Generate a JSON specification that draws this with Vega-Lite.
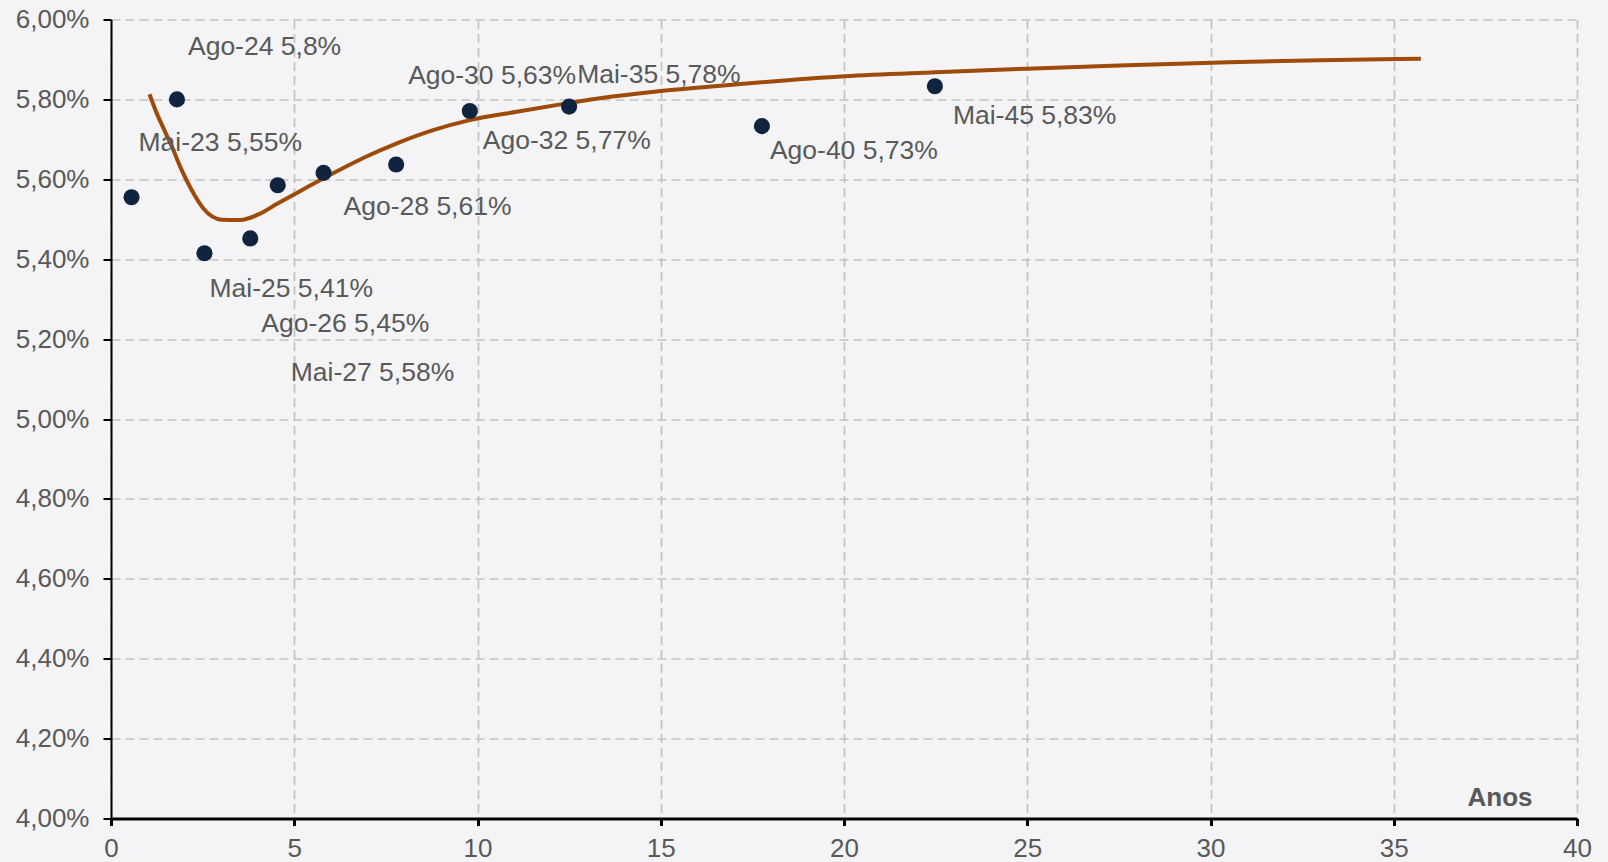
{
  "$schema": "https://vega.github.io/schema/vega-lite/v6.json",
  "width": 1466,
  "height": 799,
  "autosize": {"type": "none"},
  "padding": {"left": 111, "top": 19.5, "right": 31, "bottom": 43.5},
  "background": "#f4f4f6",
  "datasets": {
    "vertices": [
      {"anos": 0.56, "taxa": 5.555, "rotulo": "Mai-23 5,55%"},
      {"anos": 1.8, "taxa": 5.8, "rotulo": "Ago-24 5,8%"},
      {"anos": 2.55, "taxa": 5.415, "rotulo": "Mai-25 5,41%"},
      {"anos": 3.8, "taxa": 5.452, "rotulo": "Ago-26 5,45%"},
      {"anos": 4.55, "taxa": 5.585, "rotulo": "Mai-27 5,58%"},
      {"anos": 5.8, "taxa": 5.616, "rotulo": "Ago-28 5,61%"},
      {"anos": 7.78, "taxa": 5.637, "rotulo": "Ago-30 5,63%"},
      {"anos": 9.79, "taxa": 5.771, "rotulo": "Ago-32 5,77%"},
      {"anos": 12.5, "taxa": 5.782, "rotulo": "Mai-35 5,78%"},
      {"anos": 17.76, "taxa": 5.733, "rotulo": "Ago-40 5,73%"},
      {"anos": 22.48, "taxa": 5.833, "rotulo": "Mai-45 5,83%"}
    ],
    "curva": [
      {"anos": 1.05, "taxa": 5.813},
      {"anos": 1.25, "taxa": 5.765},
      {"anos": 1.43, "taxa": 5.728},
      {"anos": 1.66, "taxa": 5.682},
      {"anos": 1.93, "taxa": 5.623},
      {"anos": 2.2, "taxa": 5.573},
      {"anos": 2.52, "taxa": 5.527},
      {"anos": 3.02, "taxa": 5.499},
      {"anos": 3.52, "taxa": 5.498},
      {"anos": 4.02, "taxa": 5.512},
      {"anos": 4.52, "taxa": 5.538},
      {"anos": 5.07, "taxa": 5.566},
      {"anos": 6.06, "taxa": 5.615},
      {"anos": 6.97, "taxa": 5.657},
      {"anos": 7.8, "taxa": 5.69},
      {"anos": 8.79, "taxa": 5.723},
      {"anos": 9.79, "taxa": 5.748},
      {"anos": 11.07, "taxa": 5.769},
      {"anos": 12.43, "taxa": 5.79},
      {"anos": 13.34, "taxa": 5.803},
      {"anos": 14.88, "taxa": 5.82},
      {"anos": 16.07, "taxa": 5.83},
      {"anos": 17.5, "taxa": 5.841},
      {"anos": 20.02, "taxa": 5.858},
      {"anos": 22.5, "taxa": 5.868},
      {"anos": 25.0, "taxa": 5.877},
      {"anos": 27.5, "taxa": 5.885},
      {"anos": 30.5, "taxa": 5.893},
      {"anos": 33.0, "taxa": 5.898},
      {"anos": 35.74, "taxa": 5.902}
    ]
  },
  "config": {
    "view": {"stroke": null},
    "font": "Liberation Sans",
    "axis": {
      "grid": true,
      "gridColor": "#c2c2c2",
      "gridDash": [9, 5],
      "gridWidth": 1.7,
      "domainColor": "#000000",
      "tickColor": "#000000",
      "labelColor": "#595959",
      "labelFont": "Liberation Sans",
      "labelFontSize": 26,
      "labelFontWeight": "normal"
    }
  },
  "encoding": {
    "x": {
      "field": "anos",
      "type": "quantitative",
      "scale": {"domain": [0, 40], "nice": false, "zero": false},
      "axis": {
        "values": [0, 5, 10, 15, 20, 25, 30, 35, 40],
        "domainWidth": 3,
        "tickWidth": 3,
        "tickSize": 7,
        "labelPadding": 10,
        "labelFlush": false,
        "title": "Anos",
        "titleFont": "Liberation Sans",
        "titleFontSize": 26,
        "titleFontWeight": "bold",
        "titleColor": "#595959",
        "titleAnchor": "end",
        "titleAlign": "right",
        "titleBaseline": "middle",
        "titleX": 1421,
        "titleY": -21
      }
    },
    "y": {
      "field": "taxa",
      "type": "quantitative",
      "scale": {"domain": [4, 6], "nice": false, "zero": false},
      "axis": {
        "values": [4, 4.2, 4.4, 4.6, 4.8, 5, 5.2, 5.4, 5.6, 5.8, 6],
        "labelExpr": "replace(format(datum.value, '.2f'), '.', ',') + '%'",
        "domainWidth": 2,
        "tickWidth": 2,
        "tickSize": 8,
        "labelPadding": 14,
        "labelFlush": false,
        "title": null
      }
    }
  },
  "layer": [
    {
      "data": {"name": "curva"},
      "mark": {"type": "line", "color": "#9e4a08", "strokeWidth": 4, "interpolate": "monotone"}
    },
    {
      "data": {"name": "vertices"},
      "mark": {"type": "circle", "color": "#10243f", "opacity": 1, "size": 260}
    },
    {
      "data": {"name": "vertices"},
      "transform": [{"filter": "datum.rotulo === 'Mai-23 5,55%'"}],
      "mark": {"type": "text", "align": "left", "baseline": "middle", "dx": 7, "dy": -54, "fontSize": 26.5, "color": "#595959"},
      "encoding": {"text": {"field": "rotulo"}}
    },
    {
      "data": {"name": "vertices"},
      "transform": [{"filter": "datum.rotulo === 'Ago-24 5,8%'"}],
      "mark": {"type": "text", "align": "left", "baseline": "middle", "dx": 11, "dy": -52, "fontSize": 26.5, "color": "#595959"},
      "encoding": {"text": {"field": "rotulo"}}
    },
    {
      "data": {"name": "vertices"},
      "transform": [{"filter": "datum.rotulo === 'Mai-25 5,41%'"}],
      "mark": {"type": "text", "align": "left", "baseline": "middle", "dx": 5, "dy": 36, "fontSize": 26.5, "color": "#595959"},
      "encoding": {"text": {"field": "rotulo"}}
    },
    {
      "data": {"name": "vertices"},
      "transform": [{"filter": "datum.rotulo === 'Ago-26 5,45%'"}],
      "mark": {"type": "text", "align": "left", "baseline": "middle", "dx": 11, "dy": 86, "fontSize": 26.5, "color": "#595959"},
      "encoding": {"text": {"field": "rotulo"}}
    },
    {
      "data": {"name": "vertices"},
      "transform": [{"filter": "datum.rotulo === 'Mai-27 5,58%'"}],
      "mark": {"type": "text", "align": "left", "baseline": "middle", "dx": 13, "dy": 188, "fontSize": 26.5, "color": "#595959"},
      "encoding": {"text": {"field": "rotulo"}}
    },
    {
      "data": {"name": "vertices"},
      "transform": [{"filter": "datum.rotulo === 'Ago-28 5,61%'"}],
      "mark": {"type": "text", "align": "left", "baseline": "middle", "dx": 20, "dy": 34, "fontSize": 26.5, "color": "#595959"},
      "encoding": {"text": {"field": "rotulo"}}
    },
    {
      "data": {"name": "vertices"},
      "transform": [{"filter": "datum.rotulo === 'Ago-30 5,63%'"}],
      "mark": {"type": "text", "align": "left", "baseline": "middle", "dx": 12, "dy": -89, "fontSize": 26.5, "color": "#595959"},
      "encoding": {"text": {"field": "rotulo"}}
    },
    {
      "data": {"name": "vertices"},
      "transform": [{"filter": "datum.rotulo === 'Ago-32 5,77%'"}],
      "mark": {"type": "text", "align": "left", "baseline": "middle", "dx": 13, "dy": 30, "fontSize": 26.5, "color": "#595959"},
      "encoding": {"text": {"field": "rotulo"}}
    },
    {
      "data": {"name": "vertices"},
      "transform": [{"filter": "datum.rotulo === 'Mai-35 5,78%'"}],
      "mark": {"type": "text", "align": "left", "baseline": "middle", "dx": 8, "dy": -32, "fontSize": 26.5, "color": "#595959"},
      "encoding": {"text": {"field": "rotulo"}}
    },
    {
      "data": {"name": "vertices"},
      "transform": [{"filter": "datum.rotulo === 'Ago-40 5,73%'"}],
      "mark": {"type": "text", "align": "left", "baseline": "middle", "dx": 8, "dy": 25, "fontSize": 26.5, "color": "#595959"},
      "encoding": {"text": {"field": "rotulo"}}
    },
    {
      "data": {"name": "vertices"},
      "transform": [{"filter": "datum.rotulo === 'Mai-45 5,83%'"}],
      "mark": {"type": "text", "align": "left", "baseline": "middle", "dx": 18, "dy": 30, "fontSize": 26.5, "color": "#595959"},
      "encoding": {"text": {"field": "rotulo"}}
    }
  ]
}
